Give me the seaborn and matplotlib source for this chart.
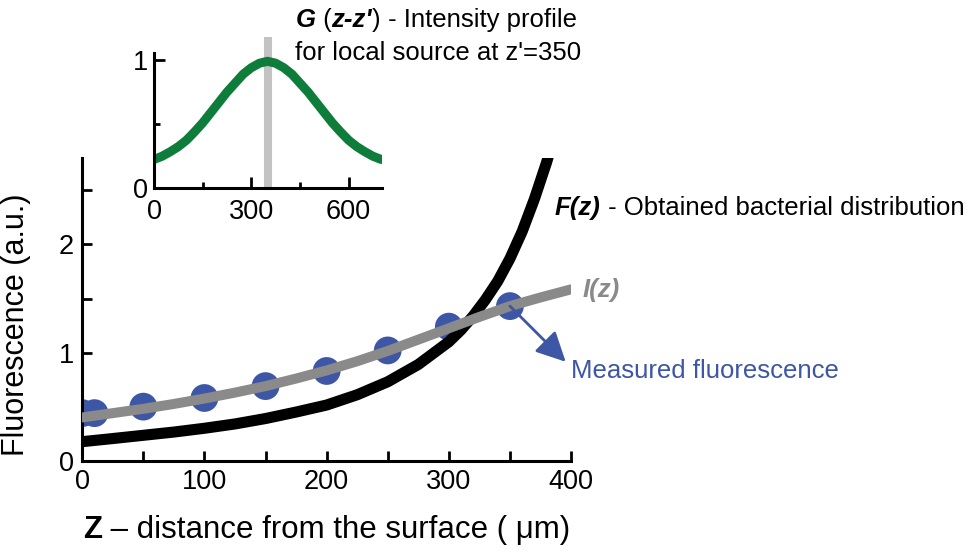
import matplotlib
matplotlib.use("Agg")
import matplotlib.pyplot as plt
from matplotlib.ticker import MultipleLocator
import seaborn as sns

# ---- data ----
z_points = [0, 10, 50, 100, 150, 200, 250, 300, 350]
fluor_points = [0.44, 0.44, 0.50, 0.58, 0.69, 0.83, 1.02, 1.24, 1.43]

z_I = [0, 25, 50, 75, 100, 125, 150, 175, 200, 225, 250, 275, 300, 325, 350, 375, 400]
I_vals = [0.40, 0.44, 0.48, 0.525, 0.575, 0.63, 0.69, 0.76, 0.835, 0.92, 1.015, 1.12,
          1.225, 1.33, 1.43, 1.51, 1.585]

z_F = [0, 25, 50, 75, 100, 125, 150, 175, 200, 225, 250, 275, 300, 310, 320, 330, 340,
       350, 360, 370, 380, 390]
F_vals = [0.176, 0.205, 0.235, 0.265, 0.30, 0.34, 0.39, 0.45, 0.515, 0.61, 0.73, 0.89,
          1.10, 1.21, 1.34, 1.49, 1.66, 1.87, 2.12, 2.42, 2.76, 3.15]

z_G = [0, 25, 50, 75, 100, 125, 150, 175, 200, 225, 250, 275, 300, 325, 350, 375, 400,
       425, 450, 475, 500, 525, 550, 575, 600, 625, 650, 675, 700]
G_vals = [0.225, 0.25, 0.285, 0.325, 0.375, 0.44, 0.51, 0.59, 0.67, 0.75, 0.82, 0.89,
          0.94, 0.975, 0.99, 0.975, 0.94, 0.89, 0.82, 0.75, 0.67, 0.59, 0.51, 0.44,
          0.375, 0.325, 0.285, 0.25, 0.225]
source_z = 350

main_xticks = [0, 100, 200, 300, 400]
main_yticks = [0, 1, 2]
inset_xticks = [0, 300, 600]
inset_yticks = [0, 1]

BLUE = "#3d56a6"
GREEN = "#0e7d3b"
GRAY = "#8a8a8a"
LGRAY = "#c3c3c3"

sns.set_theme(style="ticks")
plt.rcParams["font.family"] = ["Liberation Sans", "DejaVu Sans"]

fig = plt.figure(figsize=(9.7, 5.53), dpi=100)
fig.patch.set_facecolor("white")


def style_axes(ax, xmaj, xmin, ymaj, ymin):
    for s in ("top", "right"):
        ax.spines[s].set_visible(False)
    for s in ("left", "bottom"):
        ax.spines[s].set_linewidth(2.2)
        ax.spines[s].set_color("black")
    ax.set_facecolor("none")
    ax.xaxis.set_major_locator(MultipleLocator(xmaj))
    ax.xaxis.set_minor_locator(MultipleLocator(xmin))
    ax.yaxis.set_major_locator(MultipleLocator(ymaj))
    ax.yaxis.set_minor_locator(MultipleLocator(ymin))
    ax.tick_params(which="both", direction="in", length=7, width=2, color="black",
                   labelsize=19.5, labelcolor="black", pad=6)
    ax.set_xlabel("")
    ax.set_ylabel("")


# ---- main axes ----
ax = fig.add_axes([0.0848, 0.1669, 0.5039, 0.5474])
sns.scatterplot(x=z_points, y=fluor_points, ax=ax, s=400, color=BLUE,
                edgecolor="none", linewidth=0, zorder=1)
sns.lineplot(x=z_F, y=F_vals, ax=ax, color="black", linewidth=8, zorder=2,
             estimator=None, sort=False)
sns.lineplot(x=z_I, y=I_vals, ax=ax, color=GRAY, linewidth=7.2, zorder=3,
             estimator=None, sort=False)
ax.set_xlim(0, 400)
ax.set_ylim(0, 2.8)
style_axes(ax, 100, 50, 1, 0.5)
ax.set_xticks(main_xticks)
ax.set_yticks(main_yticks)
ax.set_xticklabels([str(v) for v in main_xticks])
ax.set_yticklabels([str(v) for v in main_yticks])

ax.annotate("", xy=(395.6, 0.915), xytext=(z_points[-1], fluor_points[-1]),
            xycoords="data", textcoords="data", annotation_clip=False,
            arrowprops=dict(arrowstyle="-|>,head_length=0.9,head_width=0.45",
                            color=BLUE, lw=2, shrinkA=0, shrinkB=0,
                            mutation_scale=20))

# ---- inset ----
ax2 = fig.add_axes([0.1588, 0.6595, 0.2347, 0.2452])
ax2.plot([source_z, source_z], [0, 1.18], color=LGRAY, linewidth=5.8,
         solid_capstyle="butt", clip_on=False, zorder=1)
sns.lineplot(x=z_G, y=G_vals, ax=ax2, color=GREEN, linewidth=6.5, zorder=2,
             estimator=None, sort=False)
ax2.set_xlim(0, 702)
ax2.set_ylim(0, 1.057)
style_axes(ax2, 300, 150, 1, 0.5)
ax2.set_xticks(inset_xticks)
ax2.set_yticks(inset_yticks)
ax2.set_xticklabels([str(v) for v in inset_xticks])
ax2.set_yticklabels([str(v) for v in inset_yticks])
ax2.tick_params(which="major", length=8)
ax2.tick_params(which="minor", length=4.5)
ax2.tick_params(axis="x", which="both", pad=8)
ax2.tick_params(axis="y", which="both", pad=4)


# ---- mixed-style text ----
def rich_chain(x, y, parts, size=18.5, color="black"):
    last = None
    for text, weight, style in parts:
        kw = dict(fontsize=size, fontweight=weight, fontstyle=style, color=color)
        if last is None:
            last = fig.text(x, y, text, ha="left", va="baseline", **kw)
        else:
            last = ax.annotate(text, xy=(1, 0), xycoords=last, ha="left",
                               va="bottom", annotation_clip=False, **kw)
    return last


rich_chain(0.305, 0.952, [("G", "bold", "italic"), (" (", "normal", "normal"),
                          ("z-z'", "bold", "italic"), (")", "normal", "normal"),
                          (" - Intensity profile", "normal", "normal")])
fig.text(0.304, 0.8915, "for local source at z'=350", fontsize=18.5,
         ha="left", va="baseline", color="black")

rich_chain(0.572, 0.611, [("F(z)", "bold", "italic"),
                          (" - Obtained bacterial distribution", "normal", "normal")])
fig.text(0.601, 0.4635, "I(z)", fontsize=18.5, fontweight="bold",
         fontstyle="italic", color=GRAY, ha="left", va="baseline")
fig.text(0.5884, 0.316, "Measured fluorescence", fontsize=18.5, color=BLUE,
         ha="left", va="baseline")

fig.text(0.0165, 0.4123, "Fluorescence (a.u.)", fontsize=22, rotation=90,
         ha="center", va="center", color="black")
rich_chain(0.0856, 0.028, [("Z", "bold", "normal"),
                           (" \u2013 distance from the surface ( \u03bcm)", "normal", "normal")],
           size=22.5)

fig.savefig("out.png", dpi=100, facecolor="white")
